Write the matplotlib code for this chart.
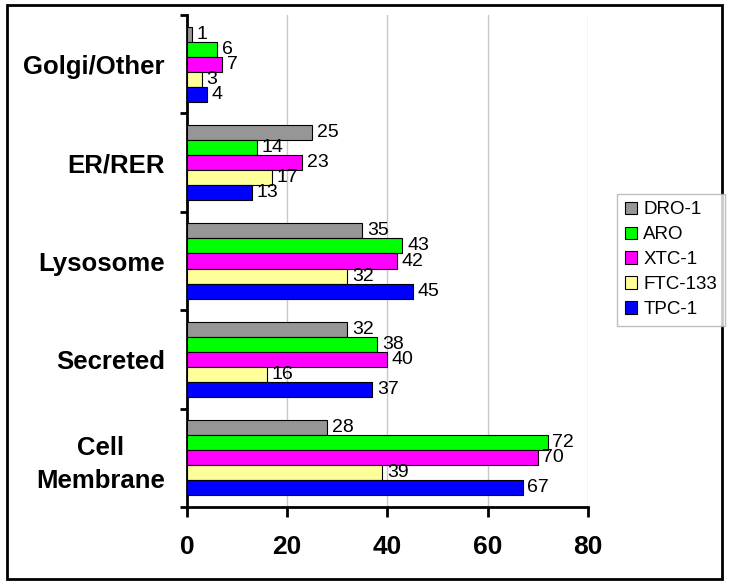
import numpy as np
import matplotlib.pyplot as plt
from matplotlib.patches import Rectangle

plt.rcParams['font.family'] = ['Liberation Sans', 'DejaVu Sans']

# データ（下から上の順）
categories = ['Cell\nMembrane', 'Secreted', 'Lysosome', 'ER/RER', 'Golgi/Other']
series_names = ['DRO-1', 'ARO', 'XTC-1', 'FTC-133', 'TPC-1']
dro1 = [28, 32, 35, 25, 1]
aro = [72, 38, 43, 14, 6]
xtc1 = [70, 40, 42, 23, 7]
ftc133 = [39, 16, 32, 17, 3]
tpc1 = [67, 37, 45, 13, 4]
colors = ['#969696', '#00FF00', '#FF00FF', '#FFFF99', '#0000FF']
x_ticks = [0, 20, 40, 60, 80]

fig = plt.figure(figsize=(7.29, 5.86), dpi=100)
ax = fig.add_axes([0.2565, 0.1348, 0.5500, 0.8396])

y = np.arange(len(categories))
h = 0.153
offsets = [2 * h, h, 0, -h, -2 * h]
all_series = [dro1, aro, xtc1, ftc133, tpc1]

for vals, name, col, off in zip(all_series, series_names, colors, offsets):
    bars = ax.barh(y + off, vals, height=h, color=col, edgecolor='black',
                   linewidth=0.8, label=name, zorder=3)
    for rect, v in zip(bars, vals):
        ax.text(rect.get_width() + 0.9, rect.get_y() + rect.get_height() / 2,
                str(v), va='center', ha='left', fontsize=14, zorder=4)

ax.set_xlim(0, 80)
ax.set_ylim(-0.5, len(categories) - 0.5)
ax.set_xticks(x_ticks)
ax.set_xticklabels([str(t) for t in x_ticks], fontsize=19, fontweight='bold')
ax.tick_params(axis='x', length=7, width=2, pad=13)

# カテゴリ境界に目盛り、中央にラベル
ax.set_yticks(np.arange(-0.5, len(categories), 1.0))
ax.set_yticklabels([])
ax.tick_params(axis='y', which='major', length=5, width=2)
ax.set_yticks(y, minor=True)
ax.set_yticklabels(categories, minor=True, fontsize=18.5, fontweight='bold',
                   multialignment='center', linespacing=1.45)
ax.tick_params(axis='y', which='minor', length=0, pad=16)

ax.grid(axis='x', color='#C8C8C8', linewidth=1, zorder=0)
for s in ['top', 'right']:
    ax.spines[s].set_visible(False)
ax.spines['left'].set_linewidth(2)
ax.spines['bottom'].set_linewidth(2)

leg = fig.legend(*ax.get_legend_handles_labels(), loc='upper left',
                 bbox_to_anchor=(617 / 729, 1 - 194 / 586), borderaxespad=0,
                 fontsize=13.5, frameon=True, fancybox=False, edgecolor='#B0B0B0',
                 handlelength=0.65, handleheight=0.65, handletextpad=0.35,
                 labelspacing=0.42, borderpad=0.4)
leg.get_frame().set_linewidth(1)

fig.patches.append(Rectangle((0.009, 0.012), 0.982, 0.979, transform=fig.transFigure,
                             fill=False, edgecolor='black', linewidth=2))

fig.savefig('out.png', dpi=100)
